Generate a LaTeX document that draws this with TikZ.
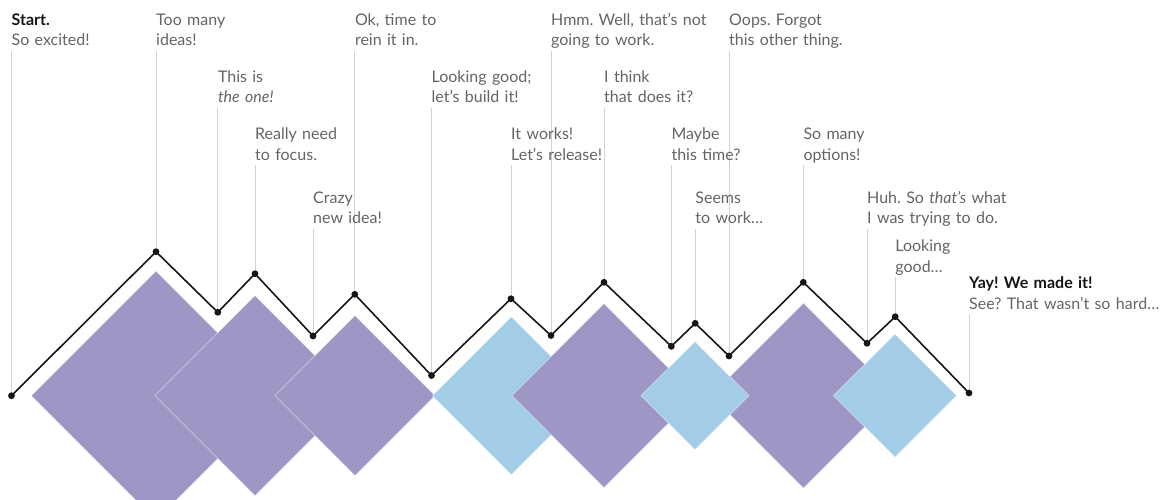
\documentclass[tikz,border=0pt]{standalone}
\usepackage{fontspec}
\setmainfont{Lato}
\frenchspacing
\definecolor{purp}{HTML}{9E97C6}
\definecolor{sky}{HTML}{A3CDE7}
\definecolor{txt}{HTML}{646464}
\definecolor{ink}{HTML}{161616}
\definecolor{lead}{HTML}{D2D2D2}
% filled diamond: centre x, centre y, half diagonal, colour
\newcommand\gemat[4]{\filldraw[gem, fill=#4] (#1-#3,#2) -- (#1,#2-#3) -- (#1+#3,#2) -- (#1,#2+#3) -- cycle;}
\begin{document}
\begin{tikzpicture}[x=1pt,y=-1pt,
  gem/.style={draw=white, draw opacity=0.45, line width=0.7pt},
  trail/.style={draw=ink, line width=1.6pt, line join=miter},
  leader/.style={draw=lead, line width=1pt},
  dot/.style={circle, fill=ink, inner sep=0pt, minimum size=6.8pt},
  lbl/.style={anchor=base west, inner sep=0pt, text width=8cm, align=left,
    font=\fontsize{16}{20.5}\selectfont, text=txt}]
\useasboundingbox (0,0) rectangle (1174,499);
\clip (0,0) rectangle (1174,499);

% diamonds
\gemat{156}{395.7}{124.6}{purp}
\gemat{255}{395.7}{100}{purp}
\gemat{355}{395.7}{80}{purp}
\gemat{511.3}{395.7}{79}{sky}
\gemat{604}{395.7}{92}{purp}
\gemat{803.5}{395.7}{92.5}{purp}
\gemat{695}{395.7}{54}{sky}
\gemat{895}{395.7}{61.5}{sky}

% milestones along the path
\coordinate (p0) at (11.5,395.7);
\coordinate (p1) at (156,251.7);
\coordinate (p2) at (217.8,312.3);
\coordinate (p3) at (255,273.7);
\coordinate (p4) at (313,336);
\coordinate (p5) at (354.8,294.3);
\coordinate (p6) at (431.5,375.5);
\coordinate (p7) at (511,298.7);
\coordinate (p8) at (551,335.5);
\coordinate (p9) at (604,282.3);
\coordinate (p10) at (671.3,346.3);
\coordinate (p11) at (695.2,323.3);
\coordinate (p12) at (729,356);
\coordinate (p13) at (803.3,282.3);
\coordinate (p14) at (867,343.3);
\coordinate (p15) at (895.2,316.7);
\coordinate (p16) at (969,393);

% upper ends of the leaders
\coordinate (t0) at (11.5,50.5);
\coordinate (t1) at (156,50.5);
\coordinate (t2) at (217.8,107.5);
\coordinate (t3) at (255,165);
\coordinate (t4) at (313,228.5);
\coordinate (t5) at (354.8,50.5);
\coordinate (t6) at (431.5,107.5);
\coordinate (t7) at (511,165);
\coordinate (t8) at (551,50.5);
\coordinate (t9) at (604,107.5);
\coordinate (t10) at (671.3,165);
\coordinate (t11) at (695.2,228.5);
\coordinate (t12) at (729,50.5);
\coordinate (t13) at (803.3,165);
\coordinate (t14) at (867,228.5);
\coordinate (t15) at (895.2,277);
\coordinate (t16) at (969,314);

\foreach \i in {0,...,16} {\draw[leader] (p\i) -- (t\i);}

\draw[trail] (p0) -- (p1) -- (p2) -- (p3) -- (p4) -- (p5) -- (p6) -- (p7) -- (p8)
  -- (p9) -- (p10) -- (p11) -- (p12) -- (p13) -- (p14) -- (p15) -- (p16);

\foreach \i in {0,...,16} {\node[dot] (d\i) at (p\i) {};}

% labels
\node[lbl] (l0) at (11.5,25) {{\color{ink}\bfseries Start.}\\So excited!};
\node[lbl] (l1) at (156,25) {Too many\\ideas!};
\node[lbl] (l2) at (217.8,82) {This is\\\textit{the one!}};
\node[lbl] (l3) at (255,139.5) {Really need\\to focus.};
\node[lbl] (l4) at (313,203) {Crazy\\new idea!};
\node[lbl] (l5) at (354.8,25) {Ok, time to\\rein it in.};
\node[lbl] (l6) at (431.5,82) {Looking good;\\let’s build it!};
\node[lbl] (l7) at (511,139.5) {It works!\\Let’s release!};
\node[lbl] (l8) at (551,25) {Hmm. Well, that’s not\\going to work.};
\node[lbl] (l9) at (604,82) {I think\\that does it?};
\node[lbl] (l10) at (671.3,139.5) {Maybe\\this time?};
\node[lbl] (l11) at (695.2,203) {Seems\\to work…};
\node[lbl] (l12) at (729,25) {Oops. Forgot\\this other thing.};
\node[lbl] (l13) at (803.3,139.5) {So many\\options!};
\node[lbl] (l14) at (867,203) {Huh. So \textit{that’s} what\\I was trying to do.};
\node[lbl] (l15) at (895.2,251.5) {Looking\\good…};
\node[lbl] (l16) at (969,288.5) {{\color{ink}\bfseries Yay! We made it!}\\See? That wasn’t so hard…};
\end{tikzpicture}
\end{document}
